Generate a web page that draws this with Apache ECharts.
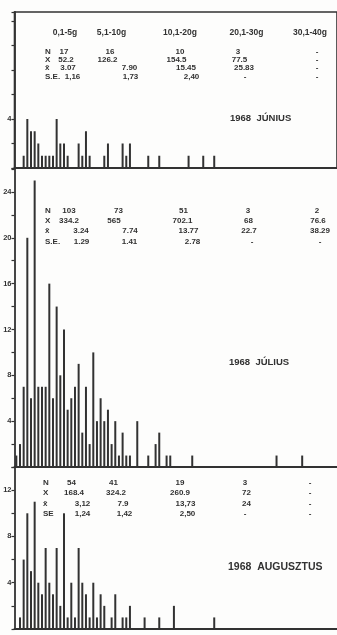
<!DOCTYPE html>
<html>
<head>
<meta charset="utf-8">
<script src="https://cdn.jsdelivr.net/npm/echarts@6/dist/echarts.min.js"></script>
<style>
html, body { margin: 0; padding: 0; background: #fdfdfc; }
#chart { width: 337px; height: 635px; }
</style>
</head>
<body>
<div id="chart"></div>
<script>
// weight classes, 0.5 g per bar
var weights = [];
for (var i = 1; i <= 88; i++) weights.push((i * 0.5).toFixed(1));

// number of fish per 0.5 g class
var juneCounts = [0, 0, 1, 4, 3, 3, 2, 1, 1, 1,
                  1, 4, 2, 2, 1, 0, 0, 2, 1, 3,
                  1, 0, 0, 0, 1, 2, 0, 0, 0, 2,
                  1, 2, 0, 0, 0, 0, 1, 0, 0, 1,
                  0, 0, 0, 0, 0, 0, 0, 1, 0, 0,
                  0, 1, 0, 0, 1];
var julyCounts = [1, 2, 7, 20, 6, 25, 7, 7, 7, 16,
                  6, 14, 8, 12, 5, 6, 7, 9, 3, 7,
                  2, 10, 4, 6, 4, 5, 2, 4, 1, 3,
                  1, 1, 0, 4, 0, 0, 1, 0, 2, 3,
                  0, 1, 1, 0, 0, 0, 0, 0, 1, 0,
                  0, 0, 0, 0, 0, 0, 0, 0, 0, 0,
                  0, 0, 0, 0, 0, 0, 0, 0, 0, 0,
                  0, 1, 0, 0, 0, 0, 0, 0, 1];
var augCounts = [0, 1, 6, 10, 5, 11, 4, 3, 7, 4,
                 3, 7, 2, 10, 1, 4, 1, 7, 4, 3,
                 1, 4, 1, 3, 2, 0, 1, 3, 0, 1,
                 1, 2, 0, 0, 0, 1, 0, 0, 0, 1,
                 0, 0, 0, 2, 0, 0, 0, 0, 0, 0,
                 0, 0, 0, 0, 1];

// statistics table
var classLabels = ['0,1-5g', '5,1-10g', '10,1-20g', '20,1-30g', '30,1-40g'];
var juneN    = ['17', '16', '10', '3', '-'];
var juneX    = ['52.2', '126.2', '154.5', '77.5', '-'];
var juneMean = ['3.07', '7.90', '15.45', '25.83', '-'];
var juneSE   = ['1,16', '1,73', '2,40', '-', '-'];
var julyN    = ['103', '73', '51', '3', '2'];
var julyX    = ['334.2', '565', '702.1', '68', '76.6'];
var julyMean = ['3.24', '7.74', '13.77', '22.7', '38.29'];
var julySE   = ['1.29', '1.41', '2.78', '-', '-'];
var augN     = ['54', '41', '19', '3', '-'];
var augX     = ['168.4', '324.2', '260.9', '72', '-'];
var augMean  = ['3,12', '7.9', '13,73', '24', '-'];
var augSE    = ['1,24', '1,42', '2,50', '-', '-'];
var panelTitles = ['1968  JÚNIUS', '1968  JÚLIUS', '1968  AUGUSZTUS'];

var ink = '#323232';
var dom = document.getElementById('chart');
var myChart = echarts.init(dom, null, { renderer: 'canvas' });

// panel layout
var grids = [
    { left: 14.5, top: 12, width: 323.4, height: 156, show: true, borderColor: ink, borderWidth: 1.6, backgroundColor: 'transparent' },
    { left: 14.5, top: 168, width: 323.4, height: 299 },
    { left: 14.5, top: 467, width: 323.4, height: 162 }
];
var yMax = [12.73, 26.09, 14];
var labelShown = [
    function (v) { return v === 4 ? '4' : ''; },
    function (v) { return (v > 0 && v % 4 === 0) ? String(v) : ''; },
    function (v) { return (v > 0 && v % 4 === 0) ? String(v) : ''; }
];

var xAxes = [], yAxes = [], series = [];
var allCounts = [juneCounts, julyCounts, augCounts];
for (var g = 0; g < 3; g++) {
    xAxes.push({
        type: 'category',
        gridIndex: g,
        data: weights,
        boundaryGap: true,
        axisLine: { lineStyle: { color: ink, width: 2 } },
        axisTick: {
            alignWithLabel: true,
            interval: function (idx) { return idx % 10 === 9; },
            length: 3,
            lineStyle: { color: ink, width: 1.2 }
        },
        axisLabel: { show: false }
    });
    yAxes.push({
        type: 'value',
        gridIndex: g,
        min: 0,
        max: yMax[g],
        interval: 2,
        axisLine: { show: true, lineStyle: { color: ink, width: 1.8 } },
        axisTick: { show: true, length: 3, lineStyle: { color: ink, width: 1.2 } },
        splitLine: { show: false },
        axisLabel: {
            color: ink, fontSize: 7.5, fontWeight: 'bold',
            fontFamily: 'Liberation Sans', margin: 3,
            formatter: labelShown[g]
        }
    });
    series.push({
        type: 'bar',
        xAxisIndex: g,
        yAxisIndex: g,
        data: allCounts[g],
        barWidth: 2,
        itemStyle: { color: ink },
        silent: true
    });
}

// table text
var graphics = [];
function txt(s, x, y, size, align) {
    graphics.push({
        type: 'text', x: x, y: y, silent: true,
        style: {
            text: s, fill: ink, align: align || 'center', verticalAlign: 'middle',
            font: 'bold ' + size + 'px "Liberation Sans", "DejaVu Sans", sans-serif'
        }
    });
}

var headerX = [65, 111.5, 180, 246.5, 310];
classLabels.forEach(function (s, i) { txt(s, headerX[i], 33, 8.5); });

var tables = [
    { rows: [juneN, juneX, juneMean, juneSE], names: ['N', 'X', 'x\u0304', 'S.E.'], nameX: 45, y: [52, 60, 68, 77],
      cx: [[64, 110, 180, 238, 317], [66, 107.5, 176.5, 239.5, 317], [68, 129.5, 186, 244, 317], [72.5, 130.5, 191.5, 245, 317]] },
    { rows: [julyN, julyX, julyMean, julySE], names: ['N', 'X', 'x\u0304', 'S.E.'], nameX: 45, y: [211, 221, 231, 242],
      cx: [[69, 118.5, 183.5, 248, 317], [69, 114, 182.5, 248.5, 318], [81, 130, 188.5, 249, 320], [81.5, 129.5, 192.5, 252, 320]] },
    { rows: [augN, augX, augMean, augSE], names: ['N', 'X', 'x\u0304', 'SE'], nameX: 43, y: [483, 493, 504, 514],
      cx: [[71.5, 113.5, 180, 245, 310], [74, 116, 180, 246.5, 310], [82.5, 123, 185.5, 246.5, 310], [82.5, 124.5, 187.5, 245, 310]] }
];
tables.forEach(function (t) {
    t.rows.forEach(function (row, r) {
        txt(t.names[r], t.nameX, t.y[r], 8, 'left');
        row.forEach(function (s, c) { txt(s, t.cx[r][c], t.y[r], 8); });
    });
});

var titlePos = [[230, 118, 9.5], [229, 362, 9.5], [228, 567, 10.5]];
panelTitles.forEach(function (s, i) { txt(s, titlePos[i][0], titlePos[i][1], titlePos[i][2], 'left'); });

var option = {
    backgroundColor: '#fdfdfc',
    animation: false,
    grid: grids,
    xAxis: xAxes,
    yAxis: yAxes,
    series: series,
    graphic: graphics
};

myChart.setOption(option);
window.addEventListener('resize', myChart.resize);
</script>
</body>
</html>
